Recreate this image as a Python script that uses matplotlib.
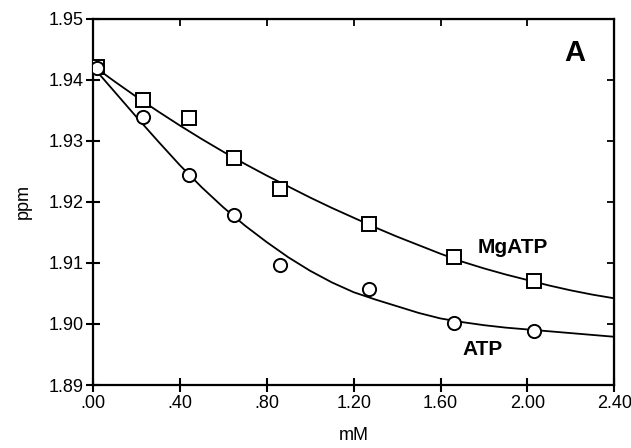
import numpy as np
import matplotlib.pyplot as plt

plt.rcParams['font.family'] = ['Liberation Sans', 'DejaVu Sans']

# ── data ──────────────────────────────────────────────────────────────────
conc = [0.02, 0.23, 0.44, 0.65, 0.86, 1.27, 1.66, 2.03]          # mM
mgatp_ppm = [1.9421, 1.9367, 1.9338, 1.9271, 1.9221, 1.9164, 1.9110, 1.9070]
atp_ppm = [1.9420, 1.9339, 1.9244, 1.9178, 1.9097, 1.9057, 1.9001, 1.8989]

# fitted curves, sampled by eye every 0.1 mM
fit_x = [0.0, 0.1, 0.2, 0.3, 0.4, 0.5, 0.6, 0.7, 0.8, 0.9, 1.0, 1.1, 1.2,
         1.3, 1.4, 1.5, 1.6, 1.7, 1.8, 1.9, 2.0, 2.1, 2.2, 2.3, 2.4]
mgatp_fit = [1.9423, 1.9397, 1.9372, 1.9348, 1.9325, 1.9303, 1.9282, 1.9262,
             1.9243, 1.9225, 1.9207, 1.9190, 1.9174, 1.9158, 1.9143, 1.9129,
             1.9115, 1.9102, 1.9091, 1.9081, 1.9072, 1.9063, 1.9055, 1.9048,
             1.9042]
atp_fit = [1.9421, 1.9380, 1.9339, 1.9299, 1.9260, 1.9224, 1.9191, 1.9161,
           1.9134, 1.9109, 1.9087, 1.9068, 1.9052, 1.9040, 1.9029, 1.9018,
           1.9009, 1.9003, 1.8998, 1.8994, 1.8991, 1.8988, 1.8985, 1.8982,
           1.8979]

x_ticks = [0.0, 0.4, 0.8, 1.2, 1.6, 2.0, 2.4]
x_ticklabels = ['.00', '.40', '.80', '1.20', '1.60', '2.00', '2.40']
y_ticks = [1.89, 1.90, 1.91, 1.92, 1.93, 1.94, 1.95]
y_ticklabels = ['1.89', '1.90', '1.91', '1.92', '1.93', '1.94', '1.95']

# ── plot ──────────────────────────────────────────────────────────────────
fig = plt.figure(figsize=(6.31, 4.48), dpi=100)
ax = fig.add_axes([0.1474, 0.1406, 0.8261, 0.8177])

ax.plot(fit_x, mgatp_fit, color='black', lw=1.3, zorder=2)
ax.plot(fit_x, atp_fit, color='black', lw=1.3, zorder=2)
ax.plot(conc, mgatp_ppm, ls='none', marker='s', ms=9.5, mfc='white',
        mec='black', mew=1.4, zorder=3)
ax.plot(conc, atp_ppm, ls='none', marker='o', ms=9.5, mfc='white',
        mec='black', mew=1.4, zorder=3)

ax.set_xlim(0, 2.4)
ax.set_ylim(1.89, 1.95)
ax.set_xticks(x_ticks)
ax.set_xticklabels(x_ticklabels)
ax.set_yticks(y_ticks)
ax.set_yticklabels(y_ticklabels)
ax.tick_params(direction='inout', length=10, width=1.5, labelsize=13, pad=2)

for s in ax.spines.values():
    s.set_linewidth(1.6)

# inward ticks on top and right, no labels
top = ax.secondary_xaxis('top')
top.set_xticks(x_ticks[1:-1])
top.set_xticklabels([])
top.tick_params(direction='in', length=5, width=1.3)
right = ax.secondary_yaxis('right')
right.set_yticks(y_ticks[1:-1])
right.set_yticklabels([])
right.tick_params(direction='in', length=5, width=1.3)

ax.set_xlabel('mM', fontsize=13, labelpad=11)
ax.set_ylabel('ppm', fontsize=13, labelpad=12)

ax.text(0.925, 0.905, 'A', transform=ax.transAxes, fontsize=21,
        fontweight='bold', ha='center', va='center')
ax.text(0.805, 0.375, 'MgATP', transform=ax.transAxes, fontsize=15,
        fontweight='bold', ha='center', va='center')
ax.text(0.748, 0.098, 'ATP', transform=ax.transAxes, fontsize=15,
        fontweight='bold', ha='center', va='center')

fig.savefig('out.png', dpi=100)
